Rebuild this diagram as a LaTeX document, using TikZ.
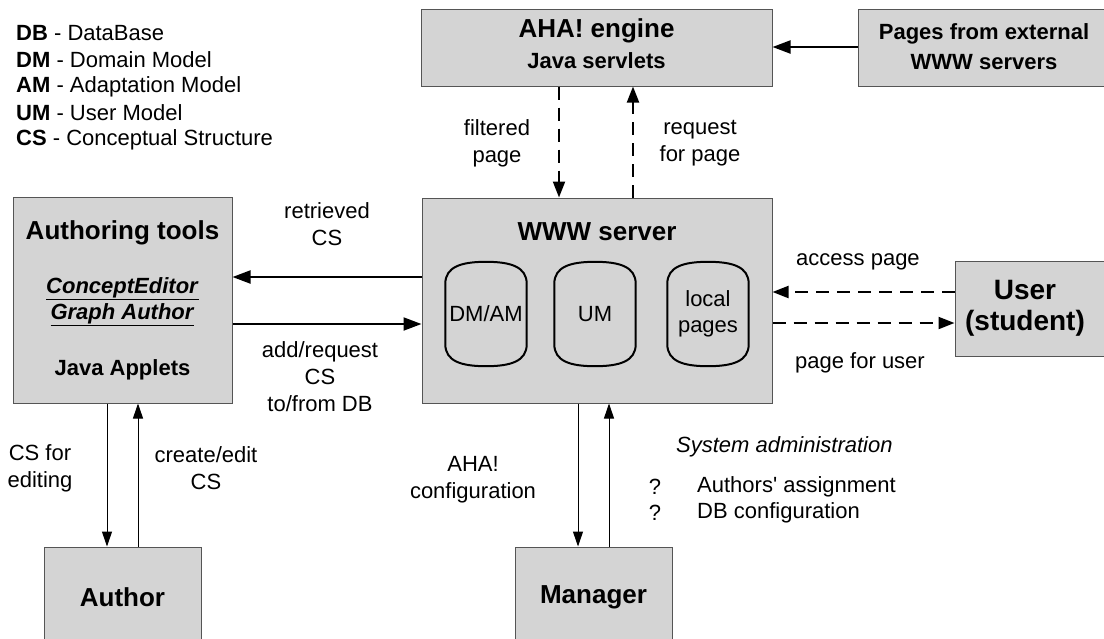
\documentclass[tikz,border=0pt]{standalone}
\usepackage{fontspec}
\setmainfont{Liberation Sans}
\newfontfamily\plainquote{Liberation Sans}[Ligatures=TeXOff]
\usetikzlibrary{arrows.meta}
\definecolor{boxfill}{RGB}{212,212,212}
\definecolor{boxline}{RGB}{85,85,85}
\newcommand\barrelshape[1]{%
  \draw[line width=2pt, line join=round]
    ([shift={(0,22)}]#1.north west)
      .. controls ([shift={(0,5)}]#1.north west) and ([shift={(16,0)}]#1.north west) .. (#1.north)
      .. controls ([shift={(-16,0)}]#1.north east) and ([shift={(0,5)}]#1.north east) .. ([shift={(0,22)}]#1.north east)
    -- ([shift={(0,-22)}]#1.south east)
      .. controls ([shift={(0,-5)}]#1.south east) and ([shift={(-16,0)}]#1.south east) .. (#1.south)
      .. controls ([shift={(16,0)}]#1.south west) and ([shift={(0,-5)}]#1.south west) .. ([shift={(0,-22)}]#1.south west)
    -- cycle;}
\begin{document}
\begin{tikzpicture}[x=1pt,y=-1pt,
  box/.style={draw=boxline, line width=1pt, fill=boxfill, inner sep=0pt},
  txt/.style={inner sep=0pt, align=center, font=\fontsize{22}{27}\selectfont},
  ttl/.style={inner sep=0pt, align=center, font=\fontsize{26}{30}\selectfont\bfseries},
  sub/.style={inner sep=0pt, align=center, font=\fontsize{22}{26}\selectfont\bfseries},
  db/.style={minimum width=81pt, minimum height=104pt, inner sep=0pt, align=center, font=\fontsize{22}{26}\selectfont},
  bigarrow/.style={line width=2pt, -{Triangle[length=18pt,width=13pt]}},
  thinarrow/.style={line width=1pt, -{Triangle[length=15pt,width=10pt]}},
  dasharrow/.style={line width=2pt, dash pattern=on 13pt off 8pt, -{Triangle[length=16pt,width=12pt]}},
]
\useasboundingbox (0,0) rectangle (1104,638);
\clip (0,0) rectangle (1104,638);

% legend
\node[txt, anchor=west] (lg1) at (16,33) {\textbf{DB} - DataBase};
\node[txt, anchor=west] (lg2) at (16,60) {\textbf{DM} - Domain Model};
\node[txt, anchor=west] (lg3) at (16,87) {\textbf{AM} - Adaptation Model};
\node[txt, anchor=west] (lg4) at (16,113) {\textbf{UM} - User Model};
\node[txt, anchor=west] (lg5) at (16,140) {\textbf{CS} - Conceptual Structure};

% boxes
\node[box, minimum width=351pt, minimum height=77pt] (aha) at (596.5,47.5) {};
\node[ttl] (ahat1) at (596.5,31) {AHA! engine};
\node[sub] (ahat2) at (596.5,61) {Java servlets};

\node[box, minimum width=252pt, minimum height=77pt] (ext) at (984,47.5) {};
\node[sub, font=\fontsize{22}{30}\selectfont\bfseries] (extt) at (984,47) {Pages from external\\WWW servers};

\node[box, minimum width=350pt, minimum height=205pt] (www) at (597,300.5) {};
\node[ttl] (wwwt) at (597,232) {WWW server};
\node[db] (dmam) at (486,314) {DM/AM};
\node[db] (um) at (595,314) {UM};
\node[db] (loc) at (708,314) {local\\pages};
\barrelshape{dmam}
\barrelshape{um}
\barrelshape{loc}

\node[box, minimum width=219pt, minimum height=206pt] (auth) at (122.5,300) {};
\node[ttl] (autht) at (122.5,233) {Authoring tools};
\node[sub] (authe) at (122.5,302) {\underline{\textit{ConceptEditor}}\\\underline{\textit{Graph Author}}};
\node[sub] (autha) at (122.5,370) {Java Applets};

\node[box, minimum width=155pt, minimum height=95pt] (user) at (1032.5,308.5) {};
\node[inner sep=0pt, align=center, font=\fontsize{28}{31}\selectfont\bfseries] (usert) at (1025,308) {User\\(student)};

\node[box, minimum width=157pt, minimum height=113pt] (author) at (122.5,603.5) {};
\node[ttl] (authort) at (122.5,597) {Author};
\node[box, minimum width=157pt, minimum height=113pt] (mgr) at (593.5,603.5) {};
\node[ttl] (mgrt) at (593.5,597) {Manager};

% helper coordinates
\coordinate (xfd) at (559,0);
\coordinate (xru) at (633,0);
\coordinate (yext) at (0,47);
\coordinate (yret) at (0,277);
\coordinate (yadd) at (0,324);
\coordinate (yacc) at (0,292);
\coordinate (ypfu) at (0,323);
\coordinate (xad) at (107,0);
\coordinate (xau) at (138,0);
\coordinate (xmd) at (578,0);
\coordinate (xmu) at (609,0);

% connectors
\draw[bigarrow] (ext.west |- yext) -- (aha.east |- yext);
\draw[dasharrow] (aha.south -| xfd) -- (www.north -| xfd);
\draw[dasharrow] (www.north -| xru) -- (aha.south -| xru);
\draw[bigarrow] (www.west |- yret) -- (auth.east |- yret);
\draw[bigarrow] (auth.east |- yadd) -- (www.west |- yadd);
\draw[dasharrow] (user.west |- yacc) -- (www.east |- yacc);
\draw[dasharrow] (www.east |- ypfu) -- (user.west |- ypfu);
\draw[thinarrow] (auth.south -| xad) -- (author.north -| xad);
\draw[thinarrow] (author.north -| xau) -- (auth.south -| xau);
\draw[thinarrow] (www.south -| xmd) -- (mgr.north -| xmd);
\draw[thinarrow] (mgr.north -| xmu) -- (www.south -| xmu);

% labels
\node[txt] (lfilt) at (497,143.5) {filtered\\page};
\node[txt] (lreq) at (700,143.5) {request\\for page};
\node[txt] (lret) at (327,224) {retrieved\\CS};
\node[txt] (ladd) at (320,377) {add/request\\CS\\to/from DB};
\node[txt] (lacc) at (858,262) {access page};
\node[txt] (lpfu) at (860,363) {page for user};
\node[txt] (lcsf) at (40,468) {CS for\\editing};
\node[txt] (lcre) at (206,468) {create/edit\\CS};
\node[txt] (lcfg) at (473,480) {AHA!\\configuration};
\node[txt, anchor=west, font=\fontsize{22}{27}\selectfont\itshape] (lsys) at (676,447) {System administration};
\node[txt] (lq1) at (655,487) {?};
\node[txt] (lq2) at (655,513) {?};
\node[txt, anchor=west, font=\fontsize{22}{27}\plainquote] (las1) at (697,487) {Authors' assignment};
\node[txt, anchor=west] (las2) at (697,513) {DB configuration};
\end{tikzpicture}
\end{document}
